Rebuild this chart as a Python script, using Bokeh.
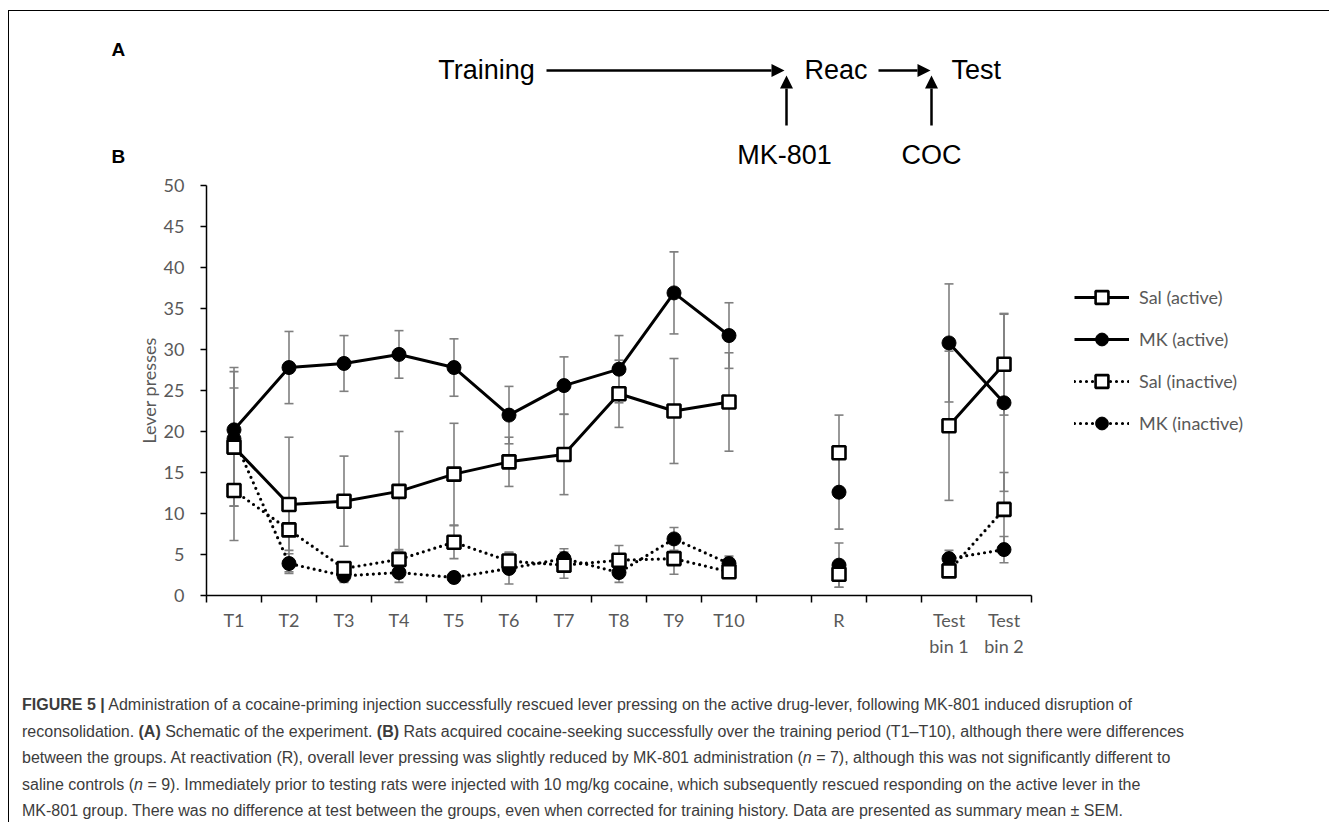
import math
from bokeh.plotting import figure
from bokeh.models import (ColumnDataSource, Range1d, LinearAxis,
                          FixedTicker, Whisker, TeeHead, Legend, LegendItem, Div)
from bokeh.layouts import column
from bokeh.embed import file_html
from bokeh.resources import INLINE

nan = float("nan")

# ---------------- data ----------------
categories = ["T1", "T2", "T3", "T4", "T5", "T6", "T7", "T8", "T9", "T10",
              "", "R", "", "Test\nbin 1", "Test\nbin 2"]

sal_active = [18.1, 11.1, 11.5, 12.7, 14.8, 16.3, 17.2, 24.6, 22.5, 23.6, nan, 17.4, nan, 20.7, 28.2]
sal_active_err = [7.2, 8.2, 5.5, 7.3, 6.2, 3.0, 4.9, 4.1, 6.4, 6.0, nan, 4.6, nan, 9.1, 6.2]

mk_active = [20.2, 27.8, 28.3, 29.4, 27.8, 22.0, 25.6, 27.6, 36.9, 31.7, nan, 12.6, nan, 30.8, 23.5]
mk_active_err = [7.6, 4.4, 3.4, 2.9, 3.5, 3.5, 3.5, 4.1, 5.0, 4.0, nan, 4.5, nan, 7.2, 10.8]

sal_inactive = [12.8, 8.0, 3.3, 4.4, 6.5, 4.2, 3.7, 4.3, 4.5, 2.9, nan, 2.6, nan, 3.0, 10.5]
sal_inactive_err = [6.1, 2.5, 0.5, 1.2, 2.0, 1.1, 1.6, 1.8, 1.9, 0.7, nan, 1.6, nan, 0.6, 4.5]

mk_inactive = [19.1, 3.9, 2.4, 2.8, 2.2, 3.3, 4.5, 2.8, 6.9, 3.9, nan, 3.7, nan, 4.5, 5.6]
mk_inactive_err = [8.2, 1.2, 0.8, 1.2, 0.6, 1.9, 1.2, 1.2, 1.4, 0.9, nan, 2.7, nan, 1.0, 1.6]

y_ticks = [0, 5, 10, 15, 20, 25, 30, 35, 40, 45, 50]
legend_labels = ["Sal (active)", "MK (active)", "Sal (inactive)", "MK (inactive)"]

FONT = "Lato"
GRAY_TXT = "#595959"
ERR = "#7f7f7f"

W = 1320
N = len(categories)
xpos = [i + 0.5 for i in range(N)]      # category centres on a 0..N scale

# ---------------- schematic (panel A), drawn as inline SVG ----------------
OX, OY = 9.5, 11.5   # page position of the schematic's top-left corner
TOP_H = 164


def sx(x):
    return round(x - OX, 1)


def sy(y):
    return round(y - OY, 1)


def arrow(x0, y0, x1, y1, head=13, half=6.5):
    dx, dy = x1 - x0, y1 - y0
    L = math.hypot(dx, dy)
    ux, uy = dx / L, dy / L
    bx, by = x1 - ux * head, y1 - uy * head
    pts = [(x1, y1), (bx - uy * half, by + ux * half), (bx + uy * half, by - ux * half)]
    poly = " ".join(f"{sx(a)},{sy(b)}" for a, b in pts)
    return (f'<line x1="{sx(x0)}" y1="{sy(y0)}" x2="{sx(bx)}" y2="{sy(by)}" stroke="black" stroke-width="2.5"/>'
            f'<polygon points="{poly}" fill="black"/>')


def txt(x, y, s, anchor="start", size=27, font=FONT, weight="normal"):
    return (f'<text x="{sx(x)}" y="{sy(y)}" font-family="{font}" font-size="{size}px" font-weight="{weight}" '
            f'text-anchor="{anchor}" dominant-baseline="central" fill="black">{s}</text>')


svg = [f'<svg xmlns="http://www.w3.org/2000/svg" width="{W}" height="{TOP_H}" style="display:block">']
svg.append(txt(112, 50, "A", font="Liberation Sans", size=19, weight="bold"))
svg.append(txt(112, 157, "B", font="Liberation Sans", size=19, weight="bold"))
svg.append(txt(487, 70, "Training", anchor="middle"))
svg.append(txt(805, 70, "Reac"))
svg.append(txt(952, 70, "Test"))
svg.append(txt(785, 155, "MK-801", anchor="middle"))
svg.append(txt(932, 155, "COC", anchor="middle"))
svg.append(arrow(547, 71, 785, 71))
svg.append(arrow(879, 71, 931, 71))
svg.append(arrow(787, 126, 787, 76))
svg.append(arrow(932, 126, 932, 76))
svg.append('</svg>')
top = Div(text="".join(svg), width=W, height=TOP_H, margin=0)

# ---------------- chart (panel B) ----------------
# axis spans the 15 categories (825 px); the frame continues to the right so the legend fits inside it
LEFT = 197
x_end = N * (W - LEFT) / 825.0
p = figure(width=W, height=495, x_range=Range1d(0, x_end), y_range=Range1d(0, 50),
           x_axis_location=None, output_backend="svg", toolbar_location=None,
           min_border_left=LEFT, min_border_right=0, min_border_top=10, min_border_bottom=75)
p.grid.visible = False
p.outline_line_color = None

label_ticks = [x for x, c in zip(xpos, categories) if c]
xa = LinearAxis(ticker=FixedTicker(ticks=label_ticks, minor_ticks=list(range(N + 1))), bounds=(0, N),
                major_label_overrides={x: c for x, c in zip(xpos, categories) if c},
                axis_line_color="black", axis_line_width=1.5,
                major_tick_line_color=None, major_tick_in=0, major_tick_out=7,
                minor_tick_line_color="black", minor_tick_line_width=1.5, minor_tick_in=0, minor_tick_out=7,
                major_label_text_font=FONT, major_label_text_font_size="18px",
                major_label_text_color=GRAY_TXT, major_label_standoff=6)
p.add_layout(xa, "below")

ya = p.yaxis[0]
ya.ticker = FixedTicker(ticks=y_ticks, minor_ticks=[])
ya.major_tick_in = 0
ya.major_tick_out = 6
ya.major_label_standoff = 16
ya.axis_line_width = 1.5
ya.major_tick_line_width = 1.5
ya.axis_line_color = "black"
ya.major_tick_line_color = "black"
ya.minor_tick_line_color = None
ya.major_label_text_font = FONT
ya.major_label_text_font_size = "18px"
ya.major_label_text_color = GRAY_TXT
ya.axis_label = "Lever presses"
ya.axis_label_text_font = FONT
ya.axis_label_text_font_size = "18px"
ya.axis_label_text_font_style = "normal"
ya.axis_label_text_color = GRAY_TXT
ya.axis_label_standoff = 1


def add_whiskers(vals, errs):
    xs, up, lo = [], [], []
    for x, v, e in zip(xpos, vals, errs):
        if not math.isnan(v):
            xs.append(x)
            up.append(v + e)
            lo.append(v - e)
    src = ColumnDataSource(dict(x=xs, up=up, lo=lo))
    w = Whisker(base="x", upper="up", lower="lo", source=src, line_color=ERR, line_width=1.6,
                upper_head=TeeHead(size=9, line_color=ERR, line_width=1.6),
                lower_head=TeeHead(size=9, line_color=ERR, line_width=1.6))
    p.add_layout(w)


series = [
    ("MK (inactive)", mk_inactive, mk_inactive_err, "dot", "circle"),
    ("Sal (inactive)", sal_inactive, sal_inactive_err, "dot", "square"),
    ("MK (active)", mk_active, mk_active_err, "solid", "circle"),
    ("Sal (active)", sal_active, sal_active_err, "solid", "square"),
]

renderers = {}
for name, vals, errs, dash, marker in series:
    add_whiskers(vals, errs)
for name, vals, errs, dash, marker in series:
    src = ColumnDataSource(dict(x=xpos, y=vals))
    if dash == "solid":
        ln = p.line("x", "y", source=src, line_color="black", line_width=3)
    else:
        ln = p.line("x", "y", source=src, line_color="black", line_width=3.2,
                    line_dash="0 6", line_cap="round")
    if marker == "square":
        mk = p.scatter("x", "y", source=src, marker="square", size=13, fill_color="white",
                       line_color="black", line_width=2.6)
    else:
        mk = p.scatter("x", "y", source=src, marker="circle", size=14, fill_color="black",
                       line_color="black", line_width=1)
    renderers[name] = [ln, mk]

legend = Legend(items=[LegendItem(label=lab, renderers=renderers[lab]) for lab in legend_labels],
                location=(868, 156), orientation="vertical", glyph_width=55, glyph_height=32,
                label_height=32, spacing=10, padding=0, margin=0, label_standoff=10,
                label_text_font=FONT, label_text_font_size="18px", label_text_color=GRAY_TXT,
                border_line_color=None, background_fill_alpha=0)
p.add_layout(legend, "center")

# ---------------- caption ----------------
caption = (
    "<b>FIGURE 5 |</b> Administration of a cocaine-priming injection successfully rescued lever pressing on the "
    "active drug-lever, following MK-801 induced disruption of<br>"
    "reconsolidation. <b>(A)</b> Schematic of the experiment. <b>(B)</b> Rats acquired cocaine-seeking successfully "
    "over the training period (T1&ndash;T10), although there were differences<br>"
    "between the groups. At reactivation (R), overall lever pressing was slightly reduced by MK-801 administration "
    "(<i>n</i> = 7), although this was not significantly different to<br>"
    "saline controls (<i>n</i> = 9). Immediately prior to testing rats were injected with 10 mg/kg cocaine, which "
    "subsequently rescued responding on the active lever in the<br>"
    "MK-801 group. There was no difference at test between the groups, even when corrected for training history. "
    "Data are presented as summary mean &plusmn; SEM."
)
cap = Div(text=caption, width=W - 14, height=152, margin=(0, 0, 0, 13),
          styles={"font-family": "Liberation Sans", "font-size": "16px", "line-height": "26.5px",
                  "color": "#3c3c3c", "padding-top": "22px", "overflow": "hidden", "white-space": "nowrap"})

layout = column(top, p, cap, spacing=0, margin=(10, 0, 0, 8),
                styles={"border-left": "1.5px solid black", "border-top": "1.5px solid black"})

open("out.html", "w").write(file_html(layout, INLINE))
